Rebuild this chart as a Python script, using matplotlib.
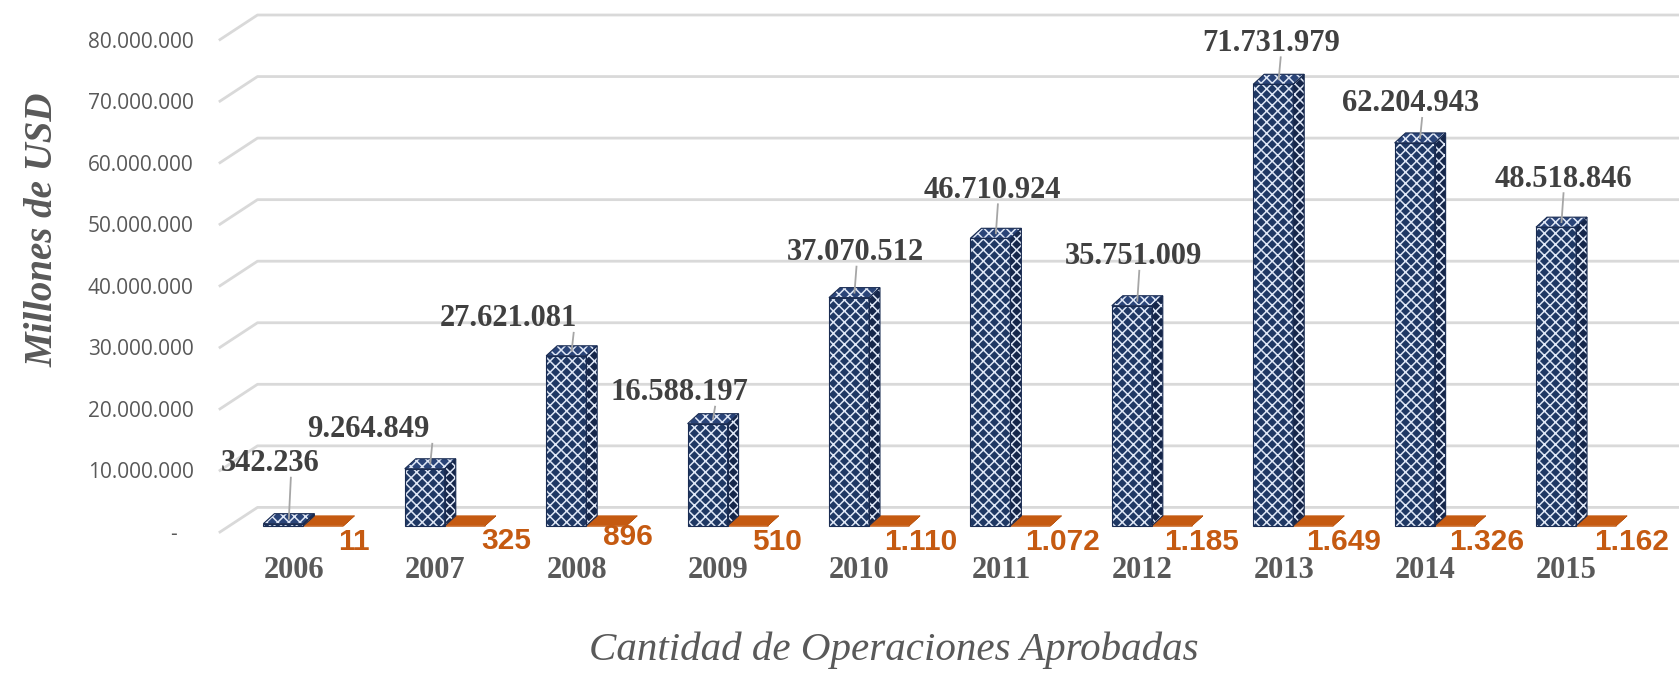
import matplotlib
matplotlib.use('Agg')
import matplotlib.pyplot as plt
from matplotlib.patches import Polygon
from matplotlib.lines import Line2D
from matplotlib.transforms import IdentityTransform
import numpy as np

years = ['2006', '2007', '2008', '2009', '2010', '2011', '2012', '2013', '2014', '2015']
montos = [342236, 9264849, 27621081, 16588197, 37070512, 46710924,
          35751009, 71731979, 62204943, 48518846]
operaciones = [11, 325, 896, 510, 1110, 1072, 1185, 1649, 1326, 1162]
yticks = [0, 10e6, 20e6, 30e6, 40e6, 50e6, 60e6, 70e6, 80e6]

# label placement (pixels), taken from the original layout
lab_off = [(-13, 60), (-56, 39), (-58, 37), (-28, 31), (6, 45),
           (2, 48), (2, 49), (-2, 41), (-4, 39), (7, 48)]
op_off = [(35, -2), (37, -1), (17, 3), (25, -2), (15, -2),
          (15, -2), (12, -2), (13, -2), (15, -2), (18, -2)]

W, H = 1679, 673
fig = plt.figure(figsize=(W / 100, H / 100), dpi=100)
ax = fig.add_axes([220 / W, (H - 532) / H, (1641 - 220) / W, (532 - 39.6) / H])
ax.set_xlim(-0.523, 9.526)
ax.set_ylim(0, 80e6)
for s in ax.spines.values():
    s.set_visible(False)

def fmt(v):
    return '-   ' if v == 0 else f'{v:,.0f}'.replace(',', '.')

ax.set_yticks(yticks, [fmt(v) for v in yticks])
ax.tick_params(axis='y', length=0, pad=19, labelsize=15, labelcolor='#595959')
for t in ax.get_yticklabels():
    t.set_fontfamily('Open Sans')
ax.set_xticks(range(len(years)), years)
ax.tick_params(axis='x', length=0, pad=17, labelsize=22, labelcolor='#595959')
for t in ax.get_xticklabels():
    t.set_fontfamily('Liberation Serif')
    t.set_fontweight('bold')

ident = IdentityTransform()
BACK = np.array([37.5, 24.6])
PLANE = np.array([9.4, 6.2])
DEPTH = np.array([11.0, 10.0])

def P(x, v, off=(0, 0)):
    return ax.transData.transform((x, v)) + np.asarray(off)

# walls / gridlines
x0, x1 = ax.get_xlim()
for v in yticks:
    a = P(x0, v)
    b = a + BACK
    c = P(x1, v) + BACK
    fig.add_artist(Line2D([a[0], b[0], W], [a[1], b[1], c[1]], transform=ident,
                          color='#d9d9d9', lw=2, zorder=1))

w = 40 / 141.4
navy = '#1f3864'
hatch_c = '#dfe7f6'
plt.rcParams['hatch.linewidth'] = 1.1

def box(xl, v, face, side, top, hatch, zorder):
    fl = P(xl, 0, PLANE)
    fr = P(xl + w, 0, PLANE)
    tl = P(xl, v, PLANE)
    tr = P(xl + w, v, PLANE)
    faces = [
        ([fr, fr + DEPTH, tr + DEPTH, tr], side),
        ([tl, tr, tr + DEPTH, tl + DEPTH], top),
        ([fl, fr, tr, tl], face),
    ]
    for pts, col in faces:
        if hatch:
            fig.add_artist(Polygon(pts, closed=True, transform=ident, facecolor=col,
                                   edgecolor=hatch_c, hatch=hatch, lw=0, zorder=zorder))
            fig.add_artist(Polygon(pts, closed=True, transform=ident, fill=False,
                                   edgecolor='#1a2c52', lw=0.8, zorder=zorder + 0.1))
        else:
            fig.add_artist(Polygon(pts, closed=True, transform=ident, facecolor=col,
                                   edgecolor=col, lw=0.5, zorder=zorder))

for i, (m, op) in enumerate(zip(montos, operaciones)):
    box(i - w, m, navy, '#15264a', '#2a4478', 'xxx', 3)
    box(i, op, '#c55a11', '#a84c0e', '#c55a11', None, 3)

    # value label + leader line
    topc = P(i - w / 2, m, PLANE + DEPTH / 2)
    front_top = P(i - w / 2, m, PLANE)
    dx, dy = lab_off[i]
    tx, ty = front_top[0] + dx, front_top[1] + dy
    if ty - 14 > topc[1] + 3:
        fig.add_artist(Line2D([topc[0] + 2, topc[0]], [ty - 14, topc[1]], transform=ident,
                              color='#a6a6a6', lw=1.3, zorder=4))
    fig.text(tx / W, ty / H, fmt(m), ha='center', va='center', fontsize=22,
             family='Liberation Serif', weight='bold', color='#404040', zorder=5)

    # operations label
    ol = P(i, 0, PLANE)
    ox, oy = op_off[i]
    fig.text((ol[0] + ox) / W, (ol[1] + oy) / H, fmt(op), ha='left', va='top',
             fontsize=21.5, family='Liberation Sans', weight='bold', color='#c55a11', zorder=5)

fig.text(43 / W, 1 - 230 / H, 'Millones de USD', rotation=90, ha='center', va='center',
         fontsize=28, family='Liberation Serif', style='italic', weight='bold', color='#595959')
fig.text(894 / W, 1 - 650 / H, 'Cantidad de Operaciones Aprobadas', ha='center', va='center',
         fontsize=29.5, family='Liberation Serif', style='italic', color='#595959')

fig.savefig('out.png', dpi=100)
